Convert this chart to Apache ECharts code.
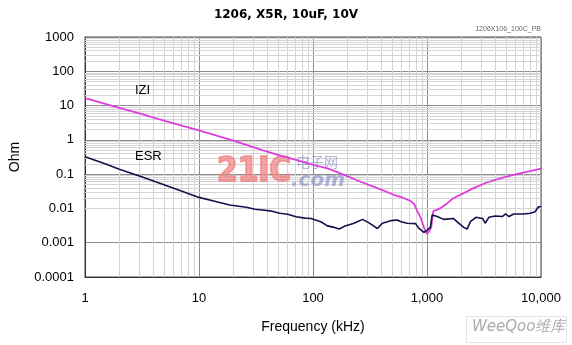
<!DOCTYPE html>
<html>
<head>
<meta http-equiv="Content-Type" content="text/html; charset=UTF-8">
<title>1206, X5R, 10uF, 10V</title>
<script type="text/javascript" src="https://cdn.jsdelivr.net/npm/echarts@6/dist/echarts.min.js"></script>
<style>
  html, body { margin: 0; padding: 0; background: #fff; }
</style>
</head>
<body>
    <div id="main" style="width: 572px; height: 345px;"></div>
    <script type="text/javascript">
        // |Z| curve (kHz, Ohm)
        var zFreq = [1, 2, 3, 5, 10, 20, 36, 50, 71, 100, 134, 188, 262, 367, 512, 600, 718, 770, 820, 877, 940, 995, 1040, 1090, 1120, 1140, 1230, 1300, 1500, 1700, 2100, 2560, 3340, 4700, 6530, 8000, 10000];
        var zVals = [16.5, 8.6, 5.9, 3.6, 1.9, 0.95, 0.5, 0.36, 0.26, 0.185, 0.148, 0.095, 0.06, 0.039, 0.025, 0.021, 0.0165, 0.0135, 0.0085, 0.0055, 0.0028, 0.0018, 0.0021, 0.0028, 0.0065, 0.0085, 0.0092, 0.010, 0.014, 0.0198, 0.028, 0.039, 0.057, 0.081, 0.106, 0.122, 0.145];

        // ESR curve (kHz, Ohm)
        var esrFreq = [1, 1.5, 2, 3, 5, 7, 10, 14, 18.6, 26, 31, 36, 42, 51, 60, 71, 85, 96, 117, 134, 154, 170, 188, 229, 272, 310, 367, 406, 480, 549, 590, 671, 795, 850, 940, 1000, 1070, 1110, 1140, 1230, 1400, 1700, 1830, 2100, 2250, 2400, 2690, 3070, 3240, 3490, 3970, 4570, 4890, 5240, 5760, 7040, 8050, 8880, 9500, 10000];
        var esrVals = [0.32, 0.2, 0.14, 0.088, 0.048, 0.032, 0.021, 0.016, 0.0126, 0.0108, 0.0095, 0.009, 0.0085, 0.0072, 0.0068, 0.0057, 0.0052, 0.0051, 0.0041, 0.0031, 0.0028, 0.0025, 0.0030, 0.0037, 0.0048, 0.0038, 0.0026, 0.0037, 0.0044, 0.0046, 0.0041, 0.0037, 0.0036, 0.0026, 0.0020, 0.0023, 0.0028, 0.0064, 0.0072, 0.0058, 0.0048, 0.0051, 0.0041, 0.0028, 0.0025, 0.0041, 0.0055, 0.0051, 0.0037, 0.0055, 0.0060, 0.0058, 0.0069, 0.0058, 0.0069, 0.0069, 0.0072, 0.0080, 0.0112, 0.0112];

        // tick labels
        var xTicks = [1, 10, 100, 1000, 10000];
        var xTickLabels = ['1', '10', '100', '1,000', '10,000'];
        var yTicks = [0.0001, 0.001, 0.01, 0.1, 1, 10, 100, 1000];
        var yTickLabels = ['0.0001', '0.001', '0.01', '0.1', '1', '10', '100', '1000'];

        function pairs(xs, ys) {
            var out = [];
            for (var i = 0; i < xs.length; i++) {
                out.push([xs[i], ys[i]]);
            }
            return out;
        }

        function findLabel(ticks, labels, v) {
            for (var i = 0; i < ticks.length; i++) {
                if (Math.abs(Math.log10(v) - Math.log10(ticks[i])) < 1e-6) return labels[i];
            }
            return '';
        }

        // minor grid lines at 2..9 of each decade
        var minorLines = [];
        for (var i = 0; i < xTicks.length - 1; i++) {
            for (var k = 2; k <= 9; k++) minorLines.push({ xAxis: xTicks[i] * k });
        }
        for (var i = 0; i < yTicks.length - 1; i++) {
            for (var k = 2; k <= 9; k++) minorLines.push({ yAxis: yTicks[i] * k });
        }

        var myChart = echarts.init(document.getElementById('main'));
        myChart.setOption({
            animation: false,
            title: {
                text: '1206, X5R, 10uF, 10V',
                left: 'center',
                top: 4,
                textStyle: { fontFamily: 'DejaVu Sans', fontSize: 12, fontWeight: 'bold', color: '#000' }
            },
            grid: {
                left: 83, right: 31, top: 37, bottom: 68,
                show: true, borderColor: '#444', borderWidth: 1
            },
            xAxis: {
                type: 'log',
                logBase: 10,
                min: 1,
                max: 10000,
                name: 'Frequency (kHz)',
                nameLocation: 'middle',
                nameGap: 43,
                nameTextStyle: { fontFamily: 'Liberation Sans', fontSize: 14, color: '#000' },
                axisLine: { lineStyle: { color: '#333', width: 1 } },
                axisTick: { show: false },
                axisLabel: {
                    margin: 15,
                    fontFamily: 'Liberation Sans', fontSize: 13, color: '#000',
                    formatter: function (v) { return findLabel(xTicks, xTickLabels, v); }
                },
                splitLine: { show: true, lineStyle: { color: '#8c8c8c', width: 1 } }
            },
            yAxis: {
                type: 'log',
                logBase: 10,
                min: 0.0001,
                max: 1000,
                name: 'Ohm',
                nameLocation: 'middle',
                nameGap: 63,
                nameTextStyle: { fontFamily: 'Liberation Sans', fontSize: 14, color: '#000' },
                axisLine: { show: true, lineStyle: { color: '#333', width: 1 } },
                axisTick: { show: false },
                axisLabel: {
                    margin: 11,
                    fontFamily: 'Liberation Sans', fontSize: 13, color: '#000',
                    formatter: function (v) { return findLabel(yTicks, yTickLabels, v); }
                },
                splitLine: { show: true, lineStyle: { color: '#8c8c8c', width: 1 } }
            },
            series: [{
                name: 'grid',
                type: 'line',
                data: [],
                silent: true,
                z: 1,
                markLine: {
                    z: 1,
                    silent: true,
                    symbol: 'none',
                    label: { show: false },
                    lineStyle: { color: '#d4d4d4', width: 1, type: 'solid' },
                    emphasis: { disabled: true },
                    data: minorLines
                }
            }, {
                name: 'IZI',
                type: 'line',
                data: pairs(zFreq, zVals),
                showSymbol: false,
                z: 6,
                lineStyle: { color: '#dd3fdd', width: 1.8 }
            }, {
                name: 'ESR',
                type: 'line',
                data: pairs(esrFreq, esrVals),
                showSymbol: false,
                z: 7,
                lineStyle: { color: '#12124a', width: 1.6 }
            }],
            graphic: [
                { type: 'text', left: 135, top: 84, z: 20, style: { text: 'IZI', font: '13px "Liberation Sans"', fill: '#000' } },
                { type: 'text', left: 135, top: 150, z: 20, style: { text: 'ESR', font: '13px "Liberation Sans"', fill: '#000' } },
                { type: 'text', right: 31, top: 26, z: 20, style: { text: '1206X106_100C_PB', font: '7px "Liberation Sans"', fill: '#666' } },
                { type: 'text', left: 216, top: 155, z: 5, style: { text: '21IC', font: 'bold 33px "DejaVu Sans Condensed"', fill: 'rgba(240,130,130,0.7)', stroke: 'rgba(240,130,130,0.7)', lineWidth: 2 } },
                { type: 'text', left: 296, top: 155, z: 5, style: { text: '电子网', font: '14px "Noto Sans CJK SC"', fill: 'rgba(140,150,200,0.7)' } },
                { type: 'text', left: 291, top: 171, z: 5, style: { text: '.com', font: 'italic bold 20px "DejaVu Sans"', fill: 'rgba(140,150,200,0.7)' } },
                { type: 'rect', left: 466, top: 316, z: 20, shape: { width: 100, height: 26 }, style: { fill: '#fff', stroke: '#e4e4e4' } },
                { type: 'text', left: 472, top: 320, z: 21, style: { text: 'WeeQoo维库', font: 'italic 15px "DejaVu Sans"', fill: '#aaa' } }
            ]
        });
    </script>
</body>
</html>
